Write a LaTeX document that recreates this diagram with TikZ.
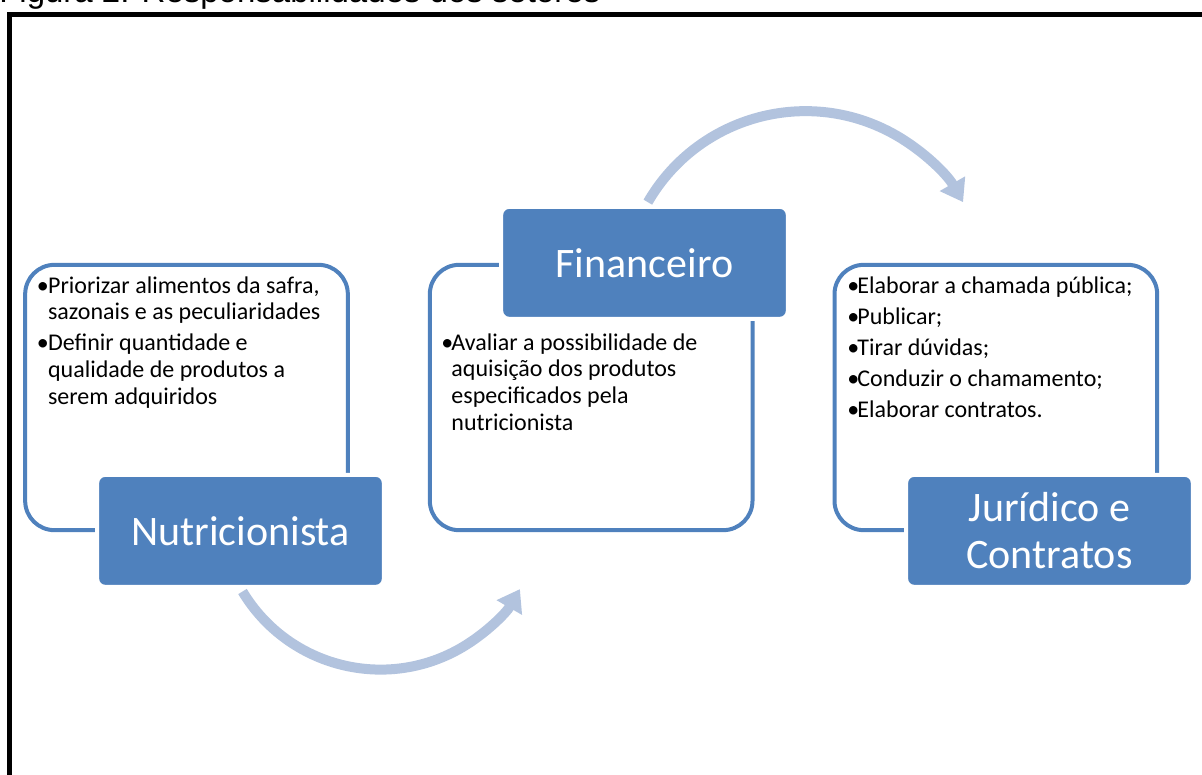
\documentclass[tikz,border=0pt]{standalone}
\usepackage{fontspec}
\setmainfont{Carlito}
\newfontfamily\captionfont{Liberation Sans}
\usepackage{xcolor}
\usetikzlibrary{positioning, arrows.meta}
\definecolor{accentblue}{RGB}{79, 129, 189}
\definecolor{arrowblue}{RGB}{178, 195, 222}

\begin{document}
\begin{tikzpicture}[x=0.75pt, y=0.75pt, node distance=58.5pt,
    textbox/.style={rectangle, draw=accentblue, fill=white, line width=3pt, rounded corners=22pt, minimum width=242pt, minimum height=199pt},
    header/.style={rectangle, draw=white, fill=accentblue, line width=3pt, rounded corners=6pt, minimum width=215pt, minimum height=84pt, align=center, text=white, font=\fontsize{31.5pt}{35pt}\selectfont},
    items/.style={anchor=north west, inner sep=0pt, align=left, font=\fontsize{18pt}{20pt}\selectfont},
    cycle/.style={draw=arrowblue, line width=7.5pt, -{Triangle[length=16pt, width=21pt]}}]

    \useasboundingbox (0,0) rectangle (1202,-774);
    \clip (0,0) rectangle (1202,-774);

    % Caption and frame
    \node[anchor=base west, inner sep=0pt, font=\captionfont\fontsize{24.75pt}{28pt}\selectfont] (caption) at (-1,-2.5) {Figura 2: Responsabilidades dos setores};
    \draw[line width=3.75pt] (9.5,-800) -- (9.5,-14.5) -- (1230,-14.5);

    % Sector boxes
    \node[textbox] (nutri_box) at (186.5,-397.5) {};
    \node[textbox, right=of nutri_box] (fin_box) {};
    \node[textbox, right=of fin_box] (jur_box) {};

    % Responsibilities
    \node[items] (nutri_items) at ([xshift=10pt, yshift=-8.5pt]nutri_box.north west) {%
        \begin{tabular}{@{}p{8.5pt}@{}l@{}}
        \textbullet & Priorizar alimentos da safra,\\
        & sazonais e as peculiaridades\\[3.3pt]
        \textbullet & Definir quantidade e\\
        & qualidade de produtos  a\\
        & serem adquiridos
        \end{tabular}};
    \node[items] (fin_items) at ([xshift=10pt, yshift=-51.2pt]fin_box.north west) {%
        \begin{tabular}{@{}p{7.5pt}@{}l@{}}
        \textbullet & Avaliar a possibilidade de\\
        & aquisição dos produtos\\
        & especificados pela\\
        & nutricionista
        \end{tabular}};
    \node[items] (jur_items) at ([xshift=11pt, yshift=-8.5pt]jur_box.north west) {%
        \begin{tabular}{@{}p{7.5pt}@{}l@{}}
        \textbullet & Elaborar a chamada pública;\\[3.3pt]
        \textbullet & Publicar;\\[3.3pt]
        \textbullet & Tirar dúvidas;\\[3.3pt]
        \textbullet & Conduzir o chamamento;\\[3.3pt]
        \textbullet & Elaborar contratos.
        \end{tabular}};

    % Sector titles
    \node[header] (nutri) at ([xshift=40.5pt, yshift=-100pt]nutri_box.center) {Nutricionista};
    \node[header] (fin) at ([xshift=40pt, yshift=101pt]fin_box.center) {Financeiro};
    \node[header] (jur) at ([xshift=40.2pt, yshift=-100pt]jur_box.center) {Jurídico e\\Contratos};

    % Flow
    \coordinate (nutri_out) at ([xshift=1.5pt, yshift=-2pt]nutri.south);
    \coordinate (fin_out) at ([xshift=2.5pt, yshift=2pt]fin.north);
    \draw[cycle] (nutri_out) arc[start angle=211, end angle=330, radius=120.75pt];
    \draw[cycle] (fin_out) arc[start angle=150, end angle=30, radius=136.5pt];
\end{tikzpicture}
\end{document}
